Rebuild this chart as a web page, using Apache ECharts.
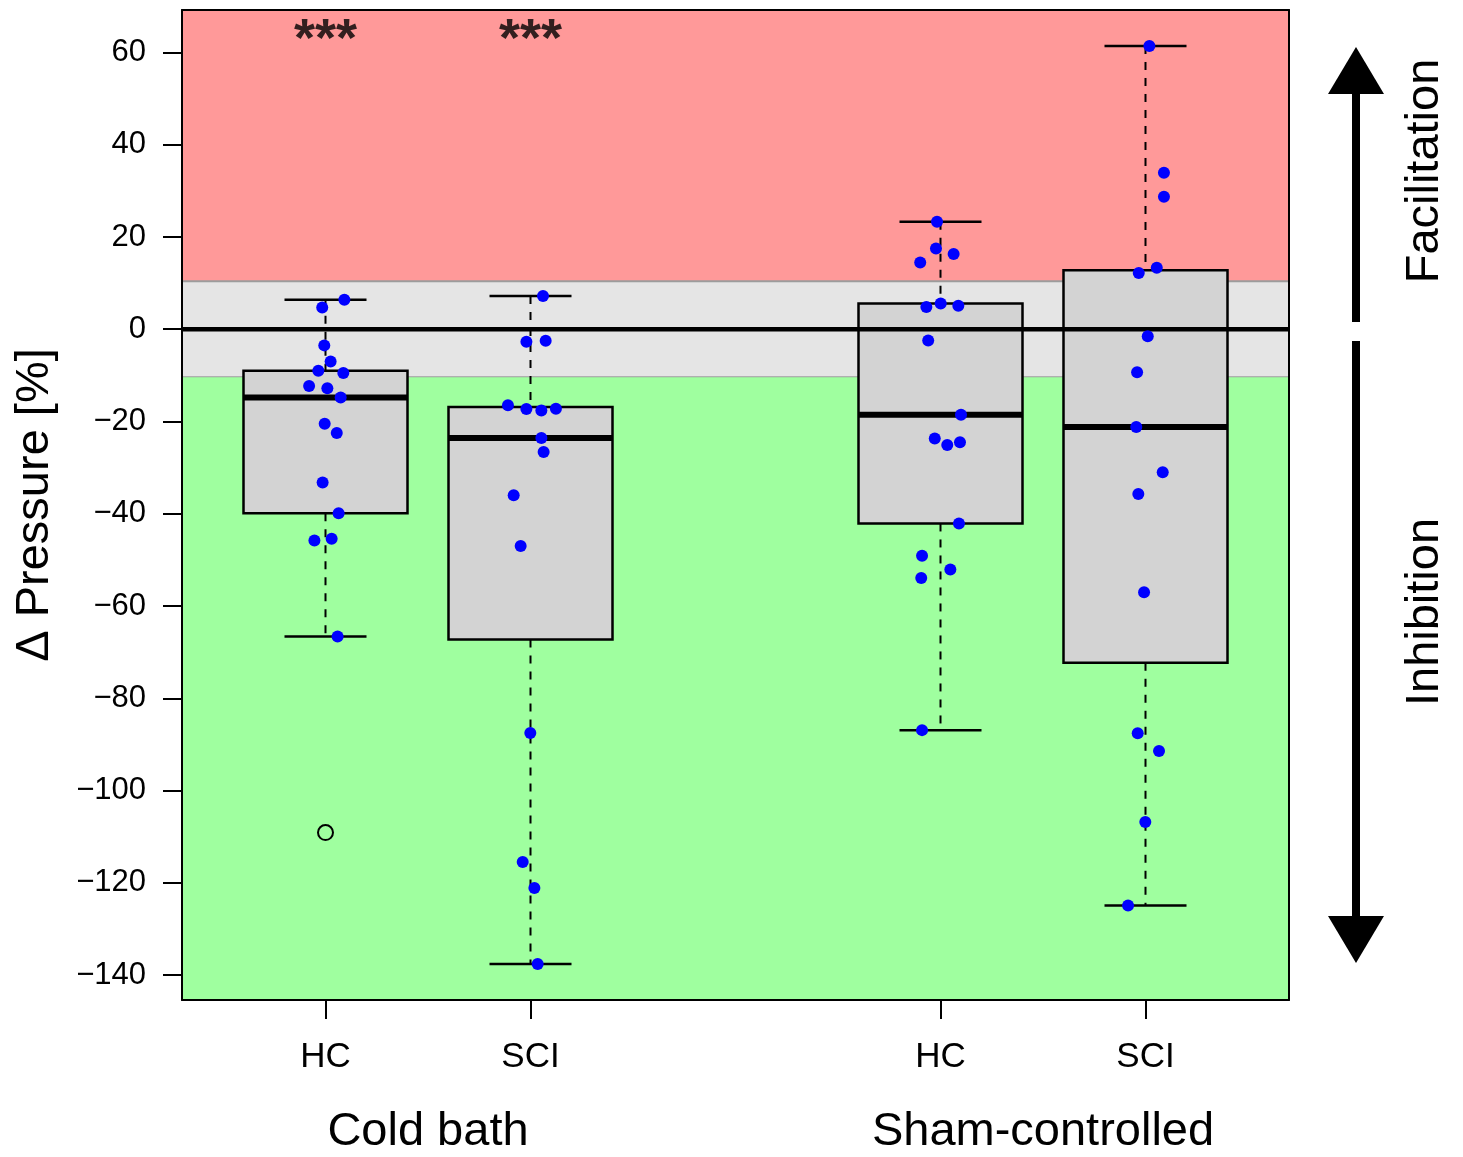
<!DOCTYPE html>
<html>
<head>
<meta charset="utf-8">
<script src="https://cdn.jsdelivr.net/npm/echarts@6/dist/echarts.min.js"></script>
<style>
  html, body { margin: 0; padding: 0; background: #ffffff; }
  #chart { width: 1463px; height: 1157px; }
</style>
</head>
<body>
<div id="chart"></div>
<script>
// ---- data ----
const groupLabels = ['HC', 'SCI', 'HC', 'SCI'];
const groupPositions = [1, 2, 4, 5];
const conditionLabels = ['Cold bath', 'Sham-controlled'];
const conditionPositions = [1.5, 4.5];
const yTicks = [-140, -120, -100, -80, -60, -40, -20, 0, 20, 40, 60];
const significance = ['***', '***', '', ''];

// change in pressure [%] per participant, with horizontal jitter (axis units)
const coldHC = [6.4, 4.7, -3.5, -7.0, -9.0, -9.5, -12.3, -12.8, -14.8, -20.5, -22.5, -33.2, -39.9, -45.8, -45.4, -66.6, -109.1];
const coldHCJitter = [0.092, -0.016, -0.006, 0.025, -0.035, 0.087, -0.080, 0.009, 0.074, -0.004, 0.055, -0.014, 0.064, -0.054, 0.030, 0.059, 0];

const coldSCI = [7.2, -2.7, -2.5, -16.5, -17.3, -17.6, -17.25, -23.6, -26.6, -36.0, -47.0, -87.5, -115.5, -121.1, -137.6];
const coldSCIJitter = [0.061, -0.020, 0.074, -0.110, -0.020, 0.053, 0.124, 0.053, 0.064, -0.082, -0.048, -0.001, -0.038, 0.019, 0.035];

const shamHC = [23.3, 17.5, 16.3, 14.45, 5.6, 5.1, 4.8, -2.45, -18.55, -23.7, -25.1, -24.5, -42.1, -49.1, -52.1, -53.9, -86.9];
const shamHCJitter = [-0.017, -0.022, 0.064, -0.099, 0.001, 0.087, -0.069, -0.060, 0.100, -0.028, 0.033, 0.095, 0.090, -0.090, 0.048, -0.094, -0.090];

const shamSCI = [61.4, 33.9, 28.7, 13.35, 12.2, -1.5, -9.3, -21.2, -31.0, -35.7, -57.0, -87.6, -91.4, -106.8, -124.9];
const shamSCIJitter = [0.019, 0.090, 0.090, 0.055, -0.033, 0.011, -0.041, -0.045, 0.084, -0.035, -0.007, -0.038, 0.066, -0.001, -0.085];

// no-change band (±) separating facilitation from inhibition
const neutralLimit = 10.4;

const groupValues = [coldHC, coldSCI, shamHC, shamSCI];
const groupJitter = [coldHCJitter, coldSCIJitter, shamHCJitter, shamSCIJitter];

// ---- statistics (Tukey hinges, 1.5 IQR whiskers) ----
function fivenum(values) {
  const x = values.slice().sort((a, b) => a - b);
  const n = x.length;
  const n4 = Math.floor((n + 3) / 2) / 2;
  const d = [1, n4, (n + 1) / 2, n + 1 - n4, n];
  return d.map(k => 0.5 * (x[Math.floor(k) - 1] + x[Math.ceil(k) - 1]));
}
function boxStats(values) {
  const f = fivenum(values);
  const iqr = f[3] - f[1];
  const lowFence = f[1] - 1.5 * iqr;
  const highFence = f[3] + 1.5 * iqr;
  const inside = values.filter(v => v >= lowFence && v <= highFence);
  const outliers = values.filter(v => v < lowFence || v > highFence);
  return {
    lo: Math.min(...inside), q1: f[1], med: f[2], q3: f[3], hi: Math.max(...inside),
    outliers, lowFence, highFence
  };
}

const stats = groupValues.map(boxStats);
const boxData = stats.map((s, i) => [groupPositions[i], s.lo, s.q1, s.med, s.q3, s.hi]);

const outlierData = [];
const pointData = [];
groupValues.forEach((vals, i) => {
  const s = stats[i];
  vals.forEach((v, j) => {
    if (v < s.lowFence || v > s.highFence) {
      outlierData.push([groupPositions[i], v]);
    } else {
      pointData.push([groupPositions[i] + groupJitter[i][j], v]);
    }
  });
});

const X_MIN = 0.3, X_MAX = 5.7;
const Y_MIN = -145.4, Y_MAX = 69.2;
const starLevel = 62.5;

const bandData = [
  [neutralLimit, Y_MAX, '#FF9999', null],
  [-neutralLimit, neutralLimit, '#E5E5E5', '#9C9C9C'],
  [Y_MIN, -neutralLimit, '#9FFF9F', null]
];

const FONT = '"Liberation Sans", Arial, Helvetica, sans-serif';
const minusFmt = v => String(v).replace('-', '\u2212');

const chart = echarts.init(document.getElementById('chart'), null, { renderer: 'canvas' });

const option = {
  animation: false,
  backgroundColor: '#ffffff',
  textStyle: { fontFamily: FONT, color: '#000' },
  grid: { left: 182, top: 10, width: 1107, height: 990, containLabel: false },
  xAxis: [
    {
      type: 'value', min: X_MIN, max: X_MAX, position: 'bottom', z: 10,
      axisLine: { show: true, onZero: false, lineStyle: { color: '#000', width: 2 } },
      axisTick: { show: true, customValues: groupPositions, length: 19, lineStyle: { color: '#000', width: 2 } },
      axisLabel: {
        show: true, customValues: groupPositions, margin: 40,
        fontSize: 35, fontFamily: FONT, color: '#000',
        formatter: v => groupLabels[groupPositions.indexOf(v)]
      },
      splitLine: { show: false }
    },
    {
      type: 'value', min: X_MIN, max: X_MAX, position: 'bottom', gridIndex: 0,
      axisLine: { show: false }, axisTick: { show: false },
      axisLabel: {
        show: true, customValues: conditionPositions, margin: 109,
        fontSize: 47, fontFamily: FONT, color: '#000',
        formatter: v => conditionLabels[conditionPositions.indexOf(v)]
      },
      splitLine: { show: false }
    },
    {
      type: 'value', min: X_MIN, max: X_MAX, position: 'top', z: 10,
      axisLine: { show: true, onZero: false, lineStyle: { color: '#000', width: 2 } },
      axisTick: { show: false }, axisLabel: { show: false }, splitLine: { show: false }
    }
  ],
  yAxis: [
    {
      type: 'value', min: Y_MIN, max: Y_MAX, position: 'left', z: 10,
      name: '\u0394 Pressure [%]', nameLocation: 'middle', nameGap: 123,
      nameTextStyle: { fontSize: 47, fontFamily: FONT, color: '#000' },
      axisLine: { show: true, onZero: false, lineStyle: { color: '#000', width: 2 } },
      axisTick: { show: true, customValues: yTicks, length: 19, lineStyle: { color: '#000', width: 2 } },
      axisLabel: {
        show: true, customValues: yTicks, margin: 36,
        fontSize: 31, fontFamily: FONT, color: '#000', formatter: minusFmt
      },
      splitLine: { show: false }
    },
    {
      type: 'value', min: Y_MIN, max: Y_MAX, position: 'right', z: 10,
      axisLine: { show: true, onZero: false, lineStyle: { color: '#000', width: 2 } },
      axisTick: { show: false }, axisLabel: { show: false }, splitLine: { show: false }
    }
  ],
  series: [
    {
      // facilitation / neutral / inhibition background bands
      type: 'custom', name: 'bands', z: 1, silent: true,
      encode: { y: [0, 1] },
      data: bandData,
      renderItem: (params, api) => {
        const cs = params.coordSys;
        const yTop = api.coord([X_MIN, api.value(1)])[1];
        const yBot = api.coord([X_MIN, api.value(0)])[1];
        const item = bandData[params.dataIndex];
        const children = [{
          type: 'rect',
          shape: { x: cs.x, y: yTop, width: cs.width, height: yBot - yTop },
          style: { fill: item[2] }
        }];
        if (item[3]) {
          [yTop, yBot].forEach(yy => children.push({
            type: 'line',
            shape: { x1: cs.x, y1: yy, x2: cs.x + cs.width, y2: yy },
            style: { stroke: item[3], lineWidth: 2 }
          }));
        }
        return { type: 'group', children };
      }
    },
    {
      // box-and-whisker plots
      type: 'custom', name: 'boxes', z: 3, silent: true,
      encode: { x: 0, y: [1, 2, 3, 4, 5] },
      data: boxData,
      renderItem: (params, api) => {
        const pos = api.value(0);
        const lo = api.coord([pos, api.value(1)]);
        const q1 = api.coord([pos, api.value(2)]);
        const med = api.coord([pos, api.value(3)]);
        const q3 = api.coord([pos, api.value(4)]);
        const hi = api.coord([pos, api.value(5)]);
        const halfBox = api.size([0.8, 0])[0] / 2;
        const halfCap = api.size([0.4, 0])[0] / 2;
        const cx = lo[0];
        const black = '#000';
        return {
          type: 'group',
          children: [
            { type: 'line', shape: { x1: cx, y1: hi[1], x2: cx, y2: q3[1] },
              style: { stroke: black, lineWidth: 2, lineDash: [8, 8] } },
            { type: 'line', shape: { x1: cx, y1: q1[1], x2: cx, y2: lo[1] },
              style: { stroke: black, lineWidth: 2, lineDash: [8, 8] } },
            { type: 'line', shape: { x1: cx - halfCap, y1: hi[1], x2: cx + halfCap, y2: hi[1] },
              style: { stroke: black, lineWidth: 2.5 } },
            { type: 'line', shape: { x1: cx - halfCap, y1: lo[1], x2: cx + halfCap, y2: lo[1] },
              style: { stroke: black, lineWidth: 2.5 } },
            { type: 'rect', shape: { x: cx - halfBox, y: q3[1], width: 2 * halfBox, height: q1[1] - q3[1] },
              style: { fill: '#D3D3D3', stroke: black, lineWidth: 2.5 } },
            { type: 'line', shape: { x1: cx - halfBox, y1: med[1], x2: cx + halfBox, y2: med[1] },
              style: { stroke: black, lineWidth: 6 } }
          ]
        };
      }
    },
    {
      // zero reference line
      type: 'line', name: 'zero', z: 4, silent: true,
      data: [[X_MIN, 0], [X_MAX, 0]],
      symbol: 'none',
      lineStyle: { color: '#000', width: 4.5, opacity: 1 }
    },
    {
      type: 'scatter', name: 'outliers', z: 5, silent: true,
      data: outlierData,
      symbol: 'circle', symbolSize: 15,
      itemStyle: { color: 'rgba(0,0,0,0)', borderColor: '#000', borderWidth: 2, opacity: 1 }
    },
    {
      type: 'scatter', name: 'participants', z: 6, silent: true,
      data: pointData,
      symbol: 'circle', symbolSize: 12,
      itemStyle: { color: '#0000FF', opacity: 1 }
    },
    {
      type: 'scatter', name: 'significance', z: 6, silent: true,
      data: groupPositions.map((p, i) => significance[i] ? [p, starLevel, significance[i]] : null).filter(Boolean),
      symbolSize: 0,
      label: {
        show: true, position: 'inside', formatter: p => p.data[2],
        fontSize: 54, fontWeight: 'bold', fontFamily: FONT, color: '#000'
      }
    }
  ],
  graphic: [
    // up arrow (facilitation)
    { type: 'rect', shape: { x: 1352, y: 90, width: 8, height: 232 }, style: { fill: '#000' } },
    { type: 'polygon', shape: { points: [[1356, 47], [1328, 94], [1384, 94]] }, style: { fill: '#000' } },
    // down arrow (inhibition)
    { type: 'rect', shape: { x: 1352, y: 341, width: 8, height: 580 }, style: { fill: '#000' } },
    { type: 'polygon', shape: { points: [[1328, 916], [1384, 916], [1356, 963]] }, style: { fill: '#000' } },
    {
      type: 'text', x: 1425, y: 171, rotation: Math.PI / 2,
      style: { text: 'Facilitation', font: '47px ' + FONT, fill: '#000', textAlign: 'center', textVerticalAlign: 'middle' }
    },
    {
      type: 'text', x: 1425, y: 612, rotation: Math.PI / 2,
      style: { text: 'Inhibition', font: '47px ' + FONT, fill: '#000', textAlign: 'center', textVerticalAlign: 'middle' }
    }
  ]
};

chart.setOption(option);
</script>
</body>
</html>
